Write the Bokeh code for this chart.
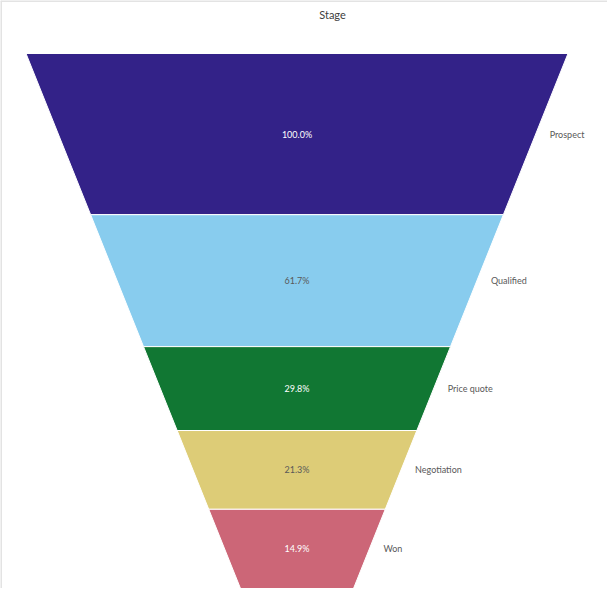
import math
from bokeh.plotting import figure
from bokeh.models import Range1d, Span, Label, ColumnDataSource
from bokeh.core.properties import value
from bokeh.embed import file_html
from bokeh.resources import INLINE

# ---- data ----
stages = ["Prospect", "Qualified", "Price quote", "Negotiation", "Won"]
percent = [100.0, 61.7, 29.8, 21.3, 14.9]
colors = ["#332288", "#88CCEE", "#117733", "#DDCC77", "#CC6677"]
label_colors = ["#ffffff", "#595959", "#ffffff", "#595959", "#ffffff"]

# ---- layout constants (pixels in figure space) ----
W, Hfig = 607, 588
CX = 296.5          # funnel centre x
TOP = 53            # funnel top y
HEIGHT = 535        # funnel height
WTOP = 542          # top width
WBOT = 113          # bottom width
FONT = "Lato"

k = (WTOP - WBOT) / HEIGHT
total_area = (WTOP + WBOT) / 2 * HEIGHT
tot = sum(percent)

def depth_for_area(a):
    return (WTOP - math.sqrt(max(WTOP ** 2 - 2 * k * a, 0))) / k

def width_at(d):
    return WTOP - k * d

xs, ys, mid_y, right_x = [], [], [], []
cum = 0.0
for v in percent:
    d0 = depth_for_area(cum / tot * total_area)
    cum += v
    d1 = depth_for_area(cum / tot * total_area)
    w0, w1 = width_at(d0), width_at(d1)
    xs.append([CX - w0 / 2, CX + w0 / 2, CX + w1 / 2, CX - w1 / 2])
    ys.append([TOP + d0, TOP + d0, TOP + d1, TOP + d1])
    dm = (d0 + d1) / 2
    mid_y.append(TOP + dm)
    right_x.append(CX + width_at(dm) / 2 + 14)

src = ColumnDataSource(dict(
    xs=xs, ys=ys, color=colors, stage=stages,
    pct=[f"{v:.1f}%" for v in percent], pct_color=label_colors,
    cx=[CX] * len(stages), my=mid_y, rx=right_x,
))

p = figure(width=W, height=Hfig, output_backend="svg", toolbar_location=None,
           x_range=Range1d(0, W), y_range=Range1d(Hfig, 0),
           min_border=0, outline_line_color=None)
p.axis.visible = False
p.grid.visible = False
p.background_fill_color = "white"
p.border_fill_color = "white"

p.patches("xs", "ys", source=src, fill_color="color", line_color="white", line_width=1)

p.text("cx", "my", text="pct", source=src, text_color="pct_color",
       text_align="center", text_baseline="middle",
       text_font=value(FONT), text_font_size="9px")
p.text("rx", "my", text="stage", source=src, text_color="#595959",
       text_align="left", text_baseline="middle",
       text_font=value(FONT), text_font_size="9px")

p.add_layout(Label(x=332, y=14, text="Stage", text_align="center", text_baseline="middle",
                   text_font=FONT, text_font_size="11px", text_color="#404040"))

p.add_layout(Span(location=0.5, dimension="height", line_color="#e3e3e3", line_width=2))
p.add_layout(Span(location=0.5, dimension="width", line_color="#e3e3e3", line_width=2))

open("out.html", "w").write(file_html(p, INLINE))
